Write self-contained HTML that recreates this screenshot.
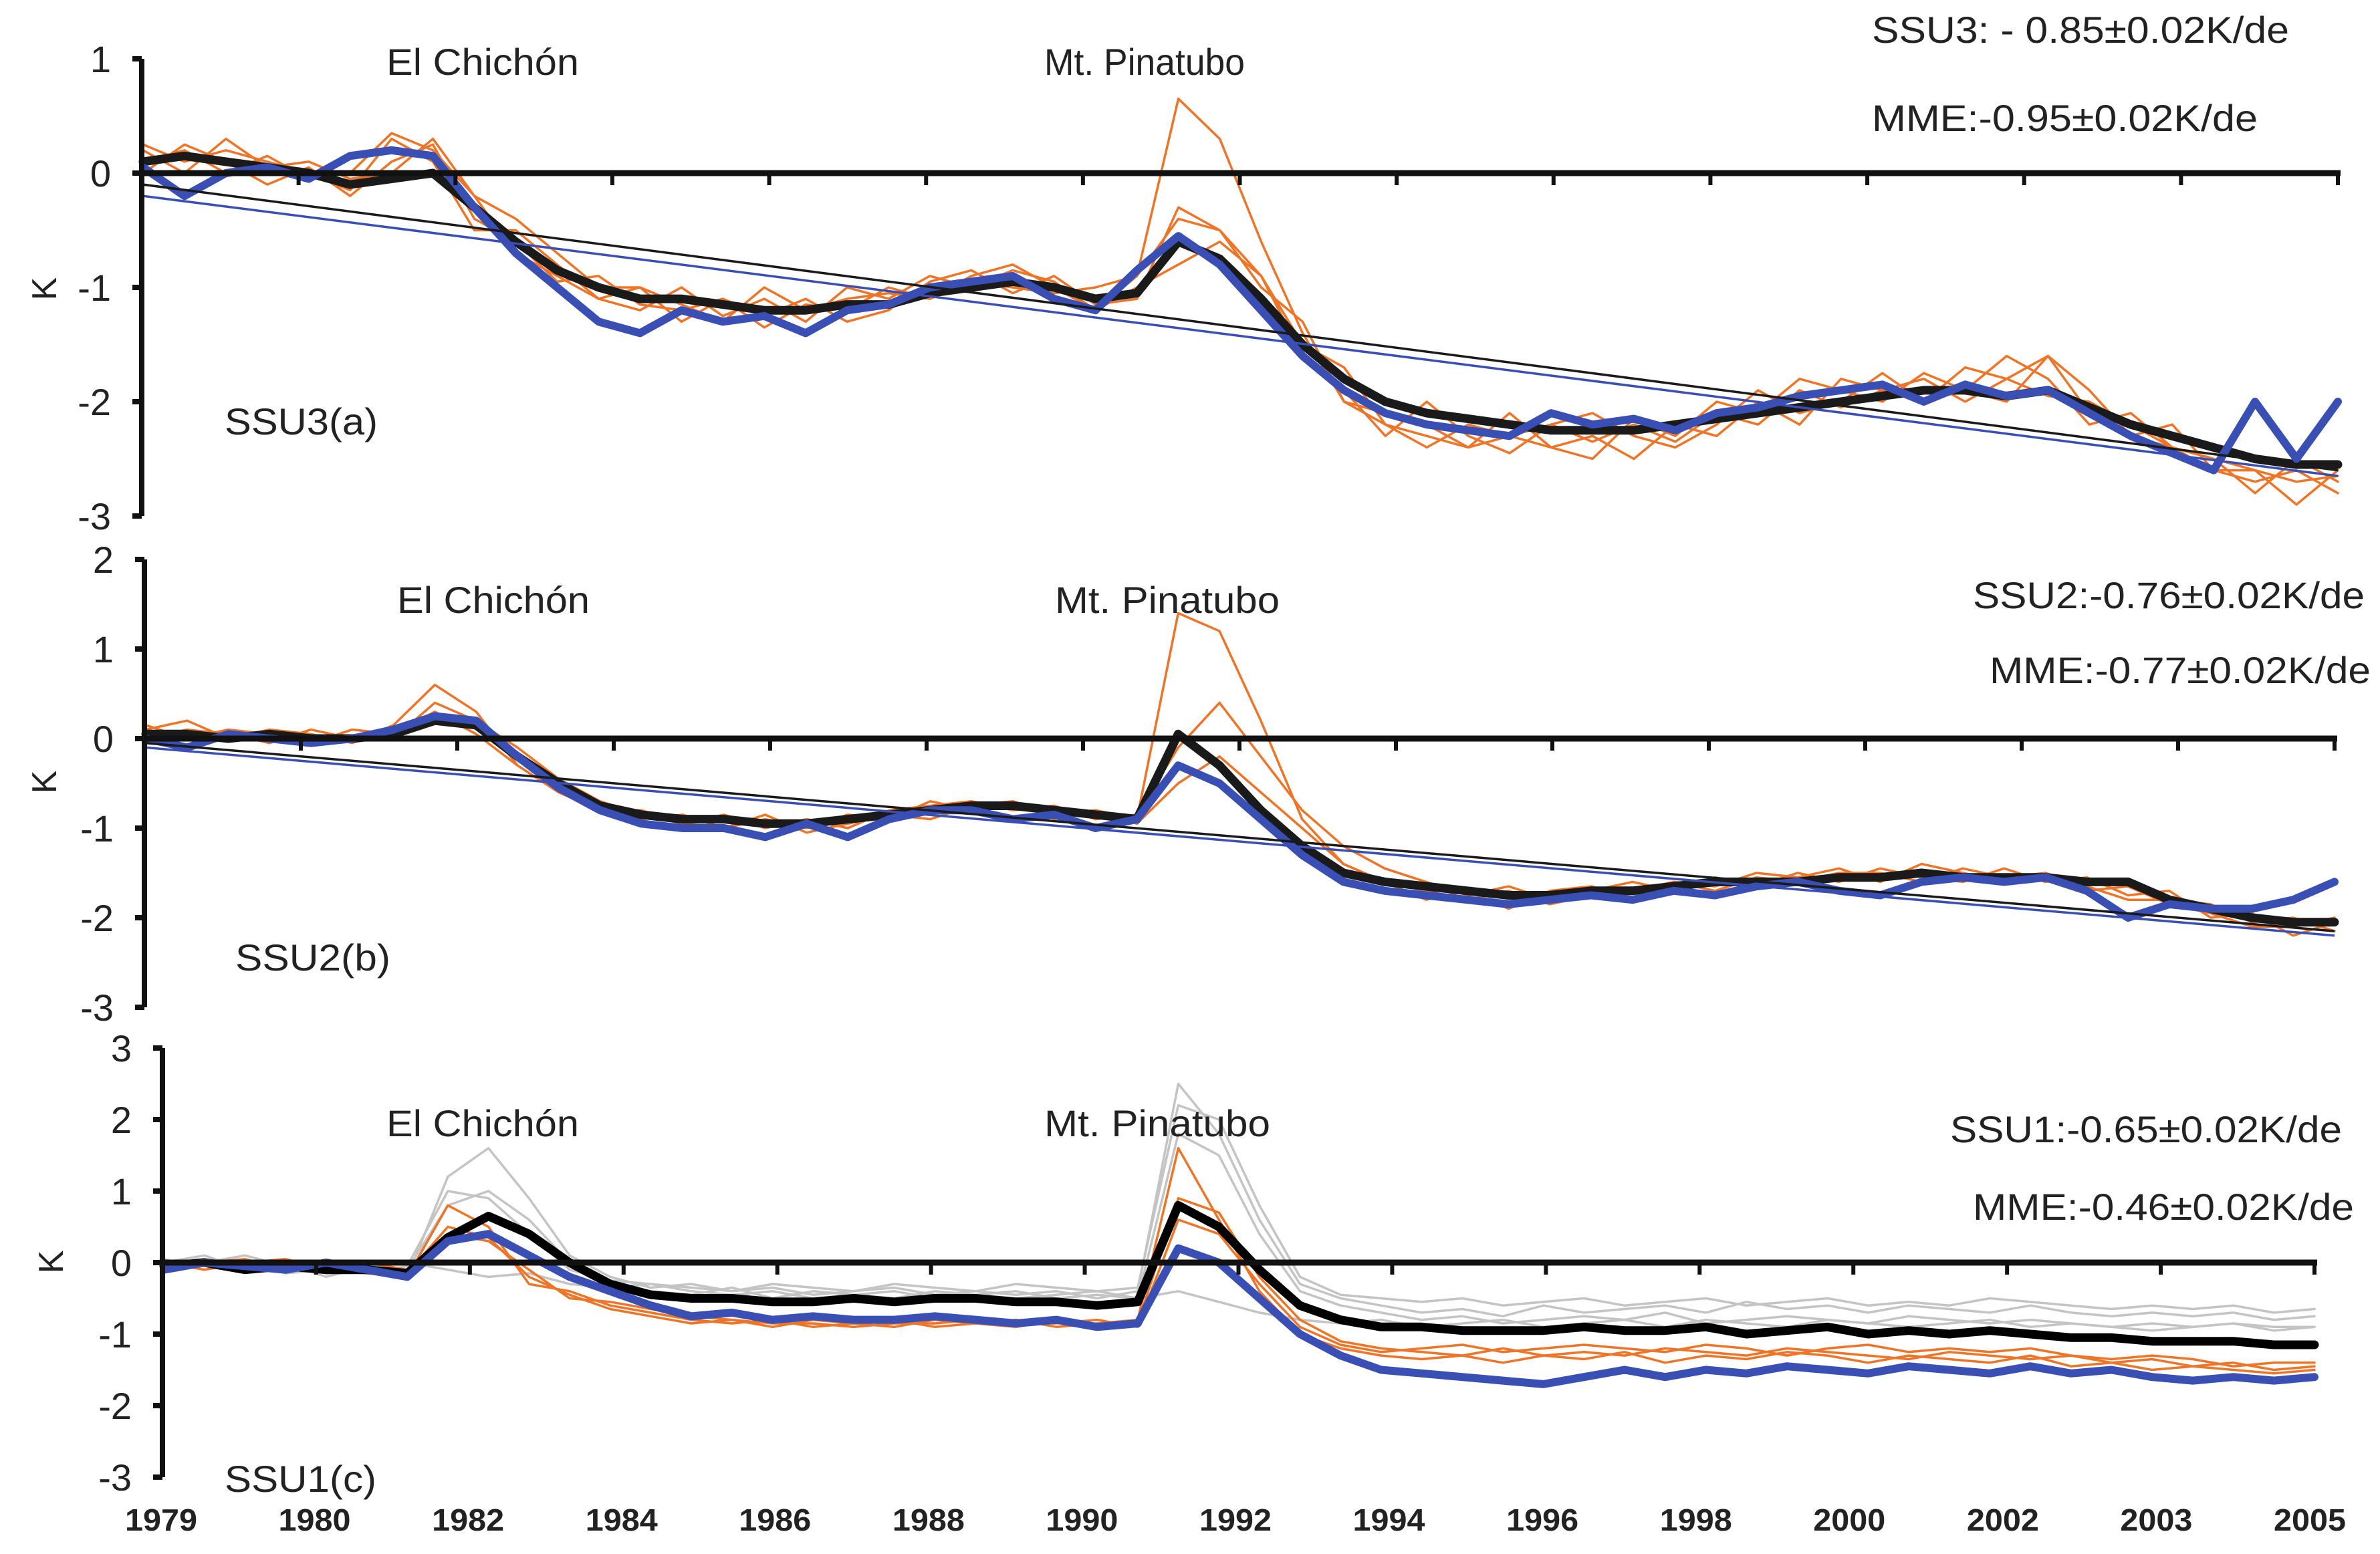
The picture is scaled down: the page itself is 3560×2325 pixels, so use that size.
<!DOCTYPE html>
<html><head><meta charset="utf-8"><style>
html,body{margin:0;padding:0;background:#fff;}
svg{display:block;}
text{font-family:"Liberation Sans Narrow","Liberation Sans",sans-serif;fill:#222;}
</style></head><body>
<svg id="chart" width="3560" height="2325" viewBox="0 0 3560 2325" xmlns="http://www.w3.org/2000/svg">
<g id="layer-lines"></g>
<g id="layer-axes"></g>
<g id="layer-text">
  <text x="578" y="112" font-size="56" textLength="288" lengthAdjust="spacingAndGlyphs">El Chichón</text>
  <text x="1562" y="112" font-size="56" textLength="300" lengthAdjust="spacingAndGlyphs">Mt. Pinatubo</text>
  <text x="2800" y="64" font-size="56" textLength="624" lengthAdjust="spacingAndGlyphs">SSU3: - 0.85±0.02K/de</text>
  <text x="2800" y="196" font-size="56" textLength="577" lengthAdjust="spacingAndGlyphs">MME:-0.95±0.02K/de</text>
  <text x="336" y="650" font-size="56" textLength="229" lengthAdjust="spacingAndGlyphs">SSU3(a)</text>
  <text transform="translate(84,432) rotate(-90)" text-anchor="middle" font-size="52">K</text>

  <text x="594" y="917" font-size="56" textLength="288" lengthAdjust="spacingAndGlyphs">El Chichón</text>
  <text x="1578" y="917" font-size="56" textLength="336" lengthAdjust="spacingAndGlyphs">Mt. Pinatubo</text>
  <text x="2951" y="910" font-size="56" textLength="586" lengthAdjust="spacingAndGlyphs">SSU2:-0.76±0.02K/de</text>
  <text x="2976" y="1022" font-size="56" textLength="570" lengthAdjust="spacingAndGlyphs">MME:-0.77±0.02K/de</text>
  <text x="352" y="1452" font-size="56" textLength="232" lengthAdjust="spacingAndGlyphs">SSU2(b)</text>
  <text transform="translate(84,1170) rotate(-90)" text-anchor="middle" font-size="52">K</text>

  <text x="578" y="1700" font-size="56" textLength="288" lengthAdjust="spacingAndGlyphs">El Chichón</text>
  <text x="1562" y="1700" font-size="56" textLength="338" lengthAdjust="spacingAndGlyphs">Mt. Pinatubo</text>
  <text x="2917" y="1709" font-size="56" textLength="586" lengthAdjust="spacingAndGlyphs">SSU1:-0.65±0.02K/de</text>
  <text x="2951" y="1825" font-size="56" textLength="570" lengthAdjust="spacingAndGlyphs">MME:-0.46±0.02K/de</text>
  <text x="336" y="2232" font-size="56" textLength="227" lengthAdjust="spacingAndGlyphs">SSU1(c)</text>
  <text transform="translate(94,1888) rotate(-90)" text-anchor="middle" font-size="52">K</text>
</g>
</svg>
<script>
// ---- data: semi-annual samples, 1979.0 .. 2005.5 ----
const yearLabels = ["1979","1980","1982","1984","1986","1988","1990","1992","1994","1996","1998","2000","2002","2003","2005"];

const aTicks = [1,0,-1,-2,-3];
const aMME = [0.1,0.15,0.1,0.05,0.0,-0.1,-0.05,0.0,-0.3,-0.6,-0.85,-1.0,-1.1,-1.1,-1.15,-1.2,-1.2,-1.15,-1.15,-1.05,-1.0,-0.95,-1.0,-1.1,-1.05,-0.6,-0.75,-1.1,-1.5,-1.8,-2.0,-2.1,-2.15,-2.2,-2.25,-2.25,-2.25,-2.2,-2.15,-2.1,-2.05,-2.0,-1.95,-1.9,-1.9,-1.95,-1.9,-2.05,-2.2,-2.3,-2.4,-2.5,-2.55,-2.55];
const aObs = [0.05,-0.2,0.0,0.05,-0.05,0.15,0.2,0.15,-0.3,-0.7,-1.0,-1.3,-1.4,-1.2,-1.3,-1.25,-1.4,-1.2,-1.15,-1.0,-0.95,-0.9,-1.1,-1.2,-0.85,-0.55,-0.8,-1.2,-1.6,-1.9,-2.1,-2.2,-2.25,-2.3,-2.1,-2.2,-2.15,-2.25,-2.1,-2.05,-1.95,-1.9,-1.85,-2.0,-1.85,-1.95,-1.9,-2.1,-2.3,-2.45,-2.6,-2.0,-2.5,-2.0];
const aModel1 = [0.25,0.1,0.2,0.1,0.0,-0.15,0.3,0.1,-0.5,-0.5,-0.8,-1.1,-1.2,-1.0,-1.25,-1.1,-1.3,-1.0,-1.1,-0.9,-1.0,-0.85,-0.95,-1.2,-0.9,-0.4,-0.5,-1.0,-1.3,-2.0,-2.2,-2.3,-2.4,-2.1,-2.4,-2.3,-2.5,-2.2,-2.3,-2.0,-2.2,-1.8,-1.9,-2.0,-1.7,-1.8,-1.6,-2.1,-2.3,-2.4,-2.6,-2.7,-2.6,-2.8];
const aModel2 = [0.1,0.2,0.0,0.15,-0.05,0.0,0.35,0.2,-0.2,-0.7,-0.9,-1.1,-1.0,-1.3,-1.1,-1.35,-1.15,-1.2,-1.0,-1.1,-0.95,-1.0,-1.05,-1.0,-0.9,0.65,0.3,-0.6,-1.4,-2.0,-2.1,-2.2,-2.4,-2.3,-2.2,-2.35,-2.2,-2.35,-2.1,-2.2,-1.9,-2.05,-1.9,-1.8,-2.0,-1.8,-1.95,-2.0,-2.2,-2.4,-2.5,-2.6,-2.7,-2.65];
const aModel3 = [0.0,0.25,0.1,-0.1,0.05,-0.2,0.1,0.25,-0.4,-0.6,-0.95,-0.9,-1.15,-1.2,-1.1,-1.25,-1.1,-1.3,-1.2,-0.95,-0.85,-1.05,-0.9,-1.15,-1.1,-0.3,-0.5,-0.9,-1.6,-1.9,-2.3,-2.0,-2.3,-2.45,-2.2,-2.1,-2.3,-2.4,-2.2,-1.9,-2.1,-2.0,-1.75,-2.0,-1.9,-1.6,-1.8,-2.2,-2.1,-2.4,-2.5,-2.8,-2.5,-2.7];
const aModel4 = [0.2,0.0,0.3,0.05,0.1,-0.05,0.0,0.3,-0.2,-0.4,-0.7,-1.0,-1.0,-1.15,-1.3,-1.0,-1.2,-1.1,-1.05,-1.1,-0.9,-0.8,-1.0,-1.2,-1.0,-0.8,-0.6,-0.9,-1.5,-1.7,-2.2,-2.4,-2.2,-2.3,-2.4,-2.5,-2.15,-2.3,-2.0,-2.1,-1.8,-1.9,-2.0,-1.75,-1.9,-2.0,-1.6,-1.9,-2.3,-2.2,-2.6,-2.6,-2.9,-2.6];
const aTrendMME = [-0.1,-2.6];
const aTrendObs = [-0.2,-2.65];

const bTicks = [2,1,0,-1,-2,-3];
const bMME = [0.05,0.05,0.0,0.05,0.0,0.0,0.05,0.2,0.15,-0.2,-0.5,-0.75,-0.85,-0.9,-0.9,-0.95,-0.95,-0.9,-0.85,-0.8,-0.75,-0.75,-0.8,-0.85,-0.9,0.05,-0.3,-0.8,-1.2,-1.5,-1.6,-1.65,-1.7,-1.75,-1.75,-1.7,-1.7,-1.65,-1.6,-1.6,-1.6,-1.55,-1.55,-1.5,-1.55,-1.55,-1.55,-1.6,-1.6,-1.8,-1.9,-2.0,-2.05,-2.05];
const bObs = [0.0,-0.1,0.05,0.0,-0.05,0.0,0.1,0.25,0.2,-0.2,-0.55,-0.8,-0.95,-1.0,-1.0,-1.1,-0.95,-1.1,-0.9,-0.8,-0.8,-0.9,-0.85,-1.0,-0.9,-0.3,-0.5,-0.9,-1.3,-1.6,-1.7,-1.75,-1.8,-1.85,-1.8,-1.75,-1.8,-1.7,-1.75,-1.65,-1.6,-1.7,-1.75,-1.6,-1.55,-1.6,-1.55,-1.7,-2.0,-1.85,-1.9,-1.9,-1.8,-1.6];
const bModel1 = [0.1,0.2,0.0,0.1,0.05,-0.05,0.15,0.6,0.3,-0.3,-0.6,-0.8,-0.9,-0.85,-1.0,-0.9,-1.0,-0.85,-0.9,-0.7,-0.8,-0.7,-0.85,-0.8,-0.9,1.4,1.2,0.2,-0.9,-1.4,-1.6,-1.8,-1.7,-1.9,-1.7,-1.65,-1.8,-1.6,-1.65,-1.5,-1.55,-1.45,-1.6,-1.4,-1.5,-1.6,-1.5,-1.7,-1.65,-1.85,-1.95,-2.1,-2.1,-2.0];
const bModel2 = [0.0,0.1,0.05,-0.05,0.1,0.0,0.0,0.4,0.2,-0.1,-0.45,-0.7,-0.85,-0.95,-0.85,-1.0,-0.9,-1.0,-0.8,-0.75,-0.7,-0.8,-0.75,-0.9,-0.85,-0.1,0.4,-0.2,-0.8,-1.2,-1.45,-1.6,-1.75,-1.65,-1.8,-1.7,-1.6,-1.7,-1.55,-1.65,-1.5,-1.6,-1.45,-1.55,-1.6,-1.45,-1.6,-1.55,-1.75,-1.7,-2.0,-1.95,-2.2,-2.05];
const bModel3 = [0.15,0.0,0.1,0.05,-0.05,0.1,0.05,0.3,0.05,-0.3,-0.6,-0.8,-0.8,-0.95,-1.0,-0.85,-1.05,-0.95,-0.85,-0.9,-0.75,-0.7,-0.9,-0.8,-0.95,-0.5,-0.2,-0.6,-1.0,-1.4,-1.6,-1.7,-1.8,-1.7,-1.85,-1.75,-1.7,-1.6,-1.7,-1.55,-1.6,-1.5,-1.5,-1.6,-1.45,-1.55,-1.5,-1.65,-1.8,-1.8,-1.85,-2.05,-2.0,-2.15];
const bTrendMME = [-0.05,-2.15];
const bTrendObs = [-0.1,-2.2];

const cTicks = [3,2,1,0,-1,-2,-3];
const cMME = [-0.05,0.0,-0.1,-0.05,-0.1,-0.1,-0.15,0.35,0.65,0.4,0.0,-0.3,-0.45,-0.5,-0.5,-0.55,-0.55,-0.5,-0.55,-0.5,-0.5,-0.55,-0.55,-0.6,-0.55,0.8,0.5,-0.1,-0.6,-0.8,-0.9,-0.9,-0.95,-0.95,-0.95,-0.9,-0.95,-0.95,-0.9,-1.0,-0.95,-0.9,-1.0,-0.95,-1.0,-0.95,-1.0,-1.05,-1.05,-1.1,-1.1,-1.1,-1.15,-1.15];
const cObs = [-0.1,0.0,-0.05,-0.1,0.0,-0.1,-0.2,0.3,0.4,0.1,-0.2,-0.4,-0.6,-0.75,-0.7,-0.8,-0.75,-0.8,-0.8,-0.75,-0.8,-0.85,-0.8,-0.9,-0.85,0.2,0.0,-0.5,-1.0,-1.3,-1.5,-1.55,-1.6,-1.65,-1.7,-1.6,-1.5,-1.6,-1.5,-1.55,-1.45,-1.5,-1.55,-1.45,-1.5,-1.55,-1.45,-1.55,-1.5,-1.6,-1.65,-1.6,-1.65,-1.6];
const cGray1 = [0.05,-0.1,0.0,-0.15,-0.1,0.0,-0.2,1.2,1.6,0.9,0.1,-0.2,-0.35,-0.3,-0.4,-0.35,-0.45,-0.4,-0.35,-0.45,-0.4,-0.45,-0.4,-0.5,-0.4,2.5,1.8,0.6,-0.3,-0.5,-0.6,-0.7,-0.65,-0.75,-0.6,-0.7,-0.65,-0.6,-0.7,-0.55,-0.65,-0.6,-0.7,-0.6,-0.65,-0.7,-0.6,-0.7,-0.75,-0.7,-0.75,-0.7,-0.8,-0.75];
const cGray2 = [-0.1,0.0,0.1,-0.05,-0.15,-0.1,-0.1,0.8,1.0,0.6,0.0,-0.3,-0.4,-0.45,-0.35,-0.5,-0.4,-0.45,-0.5,-0.4,-0.45,-0.5,-0.45,-0.4,-0.5,1.8,1.5,0.4,-0.4,-0.6,-0.7,-0.8,-0.75,-0.85,-0.8,-0.75,-0.8,-0.7,-0.85,-0.8,-0.75,-0.8,-0.85,-0.75,-0.8,-0.85,-0.8,-0.85,-0.9,-0.85,-0.9,-0.85,-0.9,-0.9];
const cGray3 = [0.0,0.1,-0.1,0.0,-0.2,-0.05,0.0,-0.1,-0.2,-0.15,-0.3,-0.35,-0.3,-0.4,-0.45,-0.4,-0.5,-0.45,-0.4,-0.5,-0.45,-0.4,-0.5,-0.45,-0.5,-0.4,-0.55,-0.7,-0.8,-0.85,-0.8,-0.9,-0.85,-0.8,-0.9,-0.85,-0.8,-0.9,-0.8,-0.85,-0.9,-0.8,-0.85,-0.9,-0.85,-0.8,-0.9,-0.85,-0.9,-0.95,-0.9,-0.85,-0.95,-0.9];
const cGray4 = [-0.05,-0.05,0.0,-0.1,-0.05,-0.15,-0.05,1.0,0.9,0.4,-0.1,-0.25,-0.3,-0.35,-0.4,-0.3,-0.35,-0.4,-0.3,-0.35,-0.4,-0.3,-0.35,-0.4,-0.35,2.2,2.0,0.8,-0.2,-0.45,-0.5,-0.55,-0.5,-0.6,-0.55,-0.5,-0.6,-0.55,-0.5,-0.6,-0.55,-0.5,-0.6,-0.55,-0.6,-0.5,-0.55,-0.6,-0.65,-0.6,-0.65,-0.6,-0.7,-0.65];
const cModel1 = [-0.1,0.0,0.05,-0.1,0.0,-0.15,-0.2,0.8,0.5,-0.3,-0.4,-0.6,-0.7,-0.8,-0.85,-0.8,-0.9,-0.85,-0.8,-0.9,-0.85,-0.8,-0.9,-0.85,-0.8,1.6,0.6,-0.4,-1.0,-1.2,-1.3,-1.35,-1.3,-1.4,-1.3,-1.35,-1.25,-1.4,-1.3,-1.35,-1.25,-1.3,-1.4,-1.3,-1.35,-1.4,-1.3,-1.45,-1.4,-1.5,-1.45,-1.5,-1.55,-1.5];
const cModel2 = [0.0,-0.1,0.0,0.05,-0.1,0.0,-0.1,0.4,0.3,-0.1,-0.5,-0.55,-0.65,-0.75,-0.8,-0.9,-0.8,-0.85,-0.9,-0.8,-0.85,-0.9,-0.8,-0.9,-0.85,0.9,0.7,-0.2,-0.8,-1.1,-1.2,-1.25,-1.3,-1.2,-1.3,-1.25,-1.3,-1.2,-1.25,-1.3,-1.2,-1.25,-1.3,-1.35,-1.25,-1.3,-1.35,-1.3,-1.4,-1.35,-1.45,-1.4,-1.5,-1.45];
const cModel3 = [-0.05,0.05,-0.05,0.0,-0.05,-0.1,-0.15,0.5,0.35,-0.2,-0.45,-0.65,-0.75,-0.85,-0.8,-0.85,-0.85,-0.9,-0.85,-0.85,-0.8,-0.85,-0.85,-0.8,-0.9,0.6,0.4,-0.3,-0.9,-1.15,-1.25,-1.2,-1.15,-1.25,-1.2,-1.15,-1.2,-1.25,-1.15,-1.2,-1.3,-1.2,-1.15,-1.25,-1.2,-1.25,-1.2,-1.3,-1.35,-1.3,-1.35,-1.45,-1.4,-1.4];

// ---- rendering ----
const NS = "http://www.w3.org/2000/svg";
const linesG = document.getElementById('layer-lines');
const axesG = document.getElementById('layer-axes');
const ORANGE = "#ee7427", BLUE = "#3a4fb3", GRAY = "#c4c4c4";

function mk(tag, parent, attrs){
  const el = document.createElementNS(NS, tag);
  for (const k in attrs) el.setAttribute(k, attrs[k]);
  parent.appendChild(el);
  return el;
}

const panels = [
  {key:'a', axisX:212, x0:214, x1:3497, y0:259, perK:171, ticks:aTicks,
   series:[[aModel1,ORANGE,3.5],[aModel2,ORANGE,3.5],[aModel3,ORANGE,3.5],[aModel4,ORANGE,3.5],[aMME,"#1a1a1a",13],[aObs,BLUE,12]],
   trends:[[aTrendMME,"#1a1a1a"],[aTrendObs,BLUE]]},
  {key:'b', axisX:216, x0:218, x1:3492, y0:1105, perK:134, ticks:bTicks,
   series:[[bModel1,ORANGE,3.5],[bModel2,ORANGE,3.5],[bModel3,ORANGE,3.5],[bMME,"#1a1a1a",13],[bObs,BLUE,12]],
   trends:[[bTrendMME,"#1a1a1a"],[bTrendObs,BLUE]]},
  {key:'c', axisX:243, x0:245, x1:3462, y0:1889, perK:107, ticks:cTicks,
   series:[[cGray1,GRAY,3.5],[cGray2,GRAY,3.5],[cGray3,GRAY,3.5],[cGray4,GRAY,3.5],[cModel1,ORANGE,3.5],[cModel2,ORANGE,3.5],[cModel3,ORANGE,3.5],[cMME,"#000",13],[cObs,BLUE,12]],
   trends:[]}
];

panels.forEach(p => {
  const n = p.series[0][0].length;
  const xs = i => p.x0 + (p.x1 - p.x0) * i / (n - 1);
  const ys = v => p.y0 - v * p.perK;
  p.series.forEach((s, si) => {
    const d = s[0].map((v, i) => (i ? 'L' : 'M') + xs(i).toFixed(1) + ',' + ys(v).toFixed(1)).join('');
    const path = mk('path', linesG, {d:d, fill:'none', stroke:s[1], 'stroke-width':s[2], 'stroke-linejoin':'round', 'stroke-linecap':'round'});
    
    
  });
  p.trends.forEach((t, ti) => {
    const vals = t[0];
    const ln = mk('line', linesG, {x1:xs(0), y1:ys(vals[0]), x2:xs(n-1), y2:ys(vals[1]), stroke:t[1], 'stroke-width':3.5});
    
    
  });
  const top = ys(p.ticks[0]), bot = ys(p.ticks[p.ticks.length-1]);
  const ax = mk('line', axesG, {x1:p.axisX, y1:top, x2:p.axisX, y2:bot, stroke:'#111', 'stroke-width':8});
  
  
  p.ticks.forEach(t => {
    const tk = mk('line', axesG, {x1:p.axisX-14, y1:ys(t), x2:p.axisX, y2:ys(t), stroke:'#111', 'stroke-width':8});
    
    
    const tx = mk('text', axesG, {x:p.axisX-46, y:ys(t)+20, 'text-anchor':'end', 'font-size':56});
    tx.textContent = String(t);
    
    
  });
  const z = mk('line', axesG, {x1:p.axisX, y1:ys(0), x2:p.x1+4, y2:ys(0), stroke:'#111', 'stroke-width':9});
  
  
  for (let k = 0; k < yearLabels.length; k++) {
    const x = p.axisX + (p.x1 - p.axisX) * k / (yearLabels.length - 1);
    const tk = mk('line', axesG, {x1:x, y1:ys(0), x2:x, y2:ys(0)+18, stroke:'#111', 'stroke-width':6});
    
    
  }
});

yearLabels.forEach((lab, k) => {
  const x = 241 + k * (3455 - 241) / (yearLabels.length - 1);
  const t = mk('text', axesG, {x:x, y:2290, 'text-anchor':'middle', 'font-size':46, 'font-weight':'bold', textLength:108, lengthAdjust:'spacingAndGlyphs'});
  t.textContent = lab;
  
  
});
</script>
</body></html>
